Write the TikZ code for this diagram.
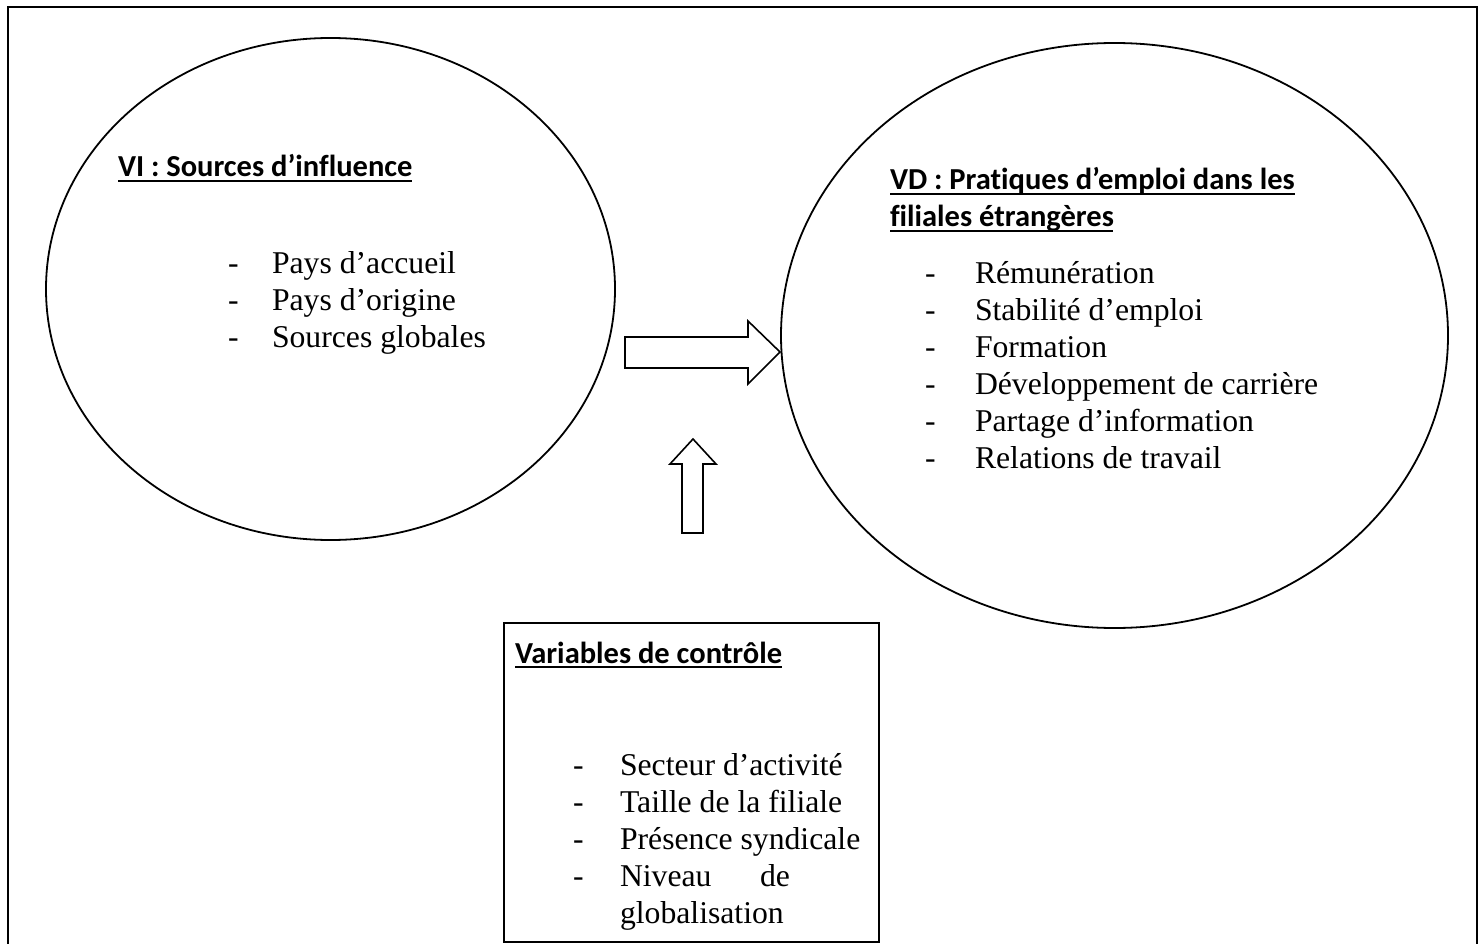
\documentclass[tikz,border=0pt]{standalone}
\usepackage{fontspec}
\setmainfont{Liberation Serif}
\newfontfamily\calib{Carlito}[Ligatures=NoCommon]
\usetikzlibrary{shapes.geometric}
\begin{document}
\begin{tikzpicture}[x=1pt,y=-1pt,
  item/.style={anchor=base west, inner sep=0pt, outer sep=0pt, font=\fontsize{31.7}{37}\selectfont},
  head/.style={anchor=base west, inner sep=0pt, outer sep=0pt, font=\calib\bfseries\fontsize{30.5}{37}\selectfont},
  oval/.style={ellipse, draw, line width=1.8pt, inner sep=0pt},
  blockarrow/.style={draw, line width=1.6pt, fill=white, line join=miter},
  uline/.style={line width=1.8pt}]
\useasboundingbox (0,0) rectangle (1483,944);
% outer frame (bottom edge lies outside the picture)
\draw[line width=1.6pt] (8,7) rectangle (1477,980);
% ellipses
\node[oval, minimum width=569pt, minimum height=502pt] (vi) at (330.5,289) {};
\node[oval, minimum width=667pt, minimum height=585pt] (vd) at (1114.5,335.5) {};
% control box
\node[draw, line width=1.6pt, minimum width=375pt, minimum height=319pt, anchor=north west, inner sep=0pt] (ctrl) at (503,622) {};
% block arrows
\draw[blockarrow] (625,337) -- (748,337) -- (748,321) -- (780,352) -- (748,384) -- (748,368) -- (625,368) -- cycle;
\draw[blockarrow] (682,533) -- (682,464) -- (670,464) -- (693,439) -- (716,464) -- (703,464) -- (703,533) -- cycle;
% left ellipse text
\node[head] (h1) at (118,177) {VI : Sources d’influence};
\draw[uline] ([yshift=-4pt]h1.base west) -- ([yshift=-4pt]h1.base east);
\node[item] (d1) at (228,273) {-};
\node[item] (t1) at (272,273) {Pays d’accueil};
\node[item] (d2) at (228,310) {-};
\node[item] (t2) at (272,310) {Pays d’origine};
\node[item] (d3) at (228,347) {-};
\node[item] (t3) at (272,347) {Sources globales};
% right ellipse text
\node[head] (h2) at (890,190) {VD : Pratiques d’emploi dans les};
\draw[uline] ([yshift=-4pt]h2.base west) -- ([yshift=-4pt]h2.base east);
\node[head] (h3) at (890,227) {filiales étrangères};
\coordinate (h3end) at (1113,231);
\draw[uline] ([yshift=-4pt]h3.base west) -- (h3end);
\node[item] (e1) at (925,283) {-};
\node[item] (r1) at (975,283) {Rémunération};
\node[item] (e2) at (925,320) {-};
\node[item] (r2) at (975,320) {Stabilité d’emploi};
\node[item] (e3) at (925,357) {-};
\node[item] (r3) at (975,357) {Formation};
\node[item] (e4) at (925,394) {-};
\node[item] (r4) at (975,394) {Développement de carrière};
\node[item] (e5) at (925,431) {-};
\node[item] (r5) at (975,431) {Partage d’information};
\node[item] (e6) at (925,468) {-};
\node[item] (r6) at (975,468) {Relations de travail};
% control box text
\node[head] (h4) at (515,663) {Variables de contrôle};
\draw[uline] ([yshift=-4pt]h4.base west) -- ([yshift=-4pt]h4.base east);
\node[item] (f1) at (573,775) {-};
\node[item] (c1) at (620,775) {Secteur d’activité};
\node[item] (f2) at (573,812) {-};
\node[item] (c2) at (620,812) {Taille de la filiale};
\node[item] (f3) at (573,849) {-};
\node[item] (c3) at (620,849) {Présence syndicale};
\node[item] (f4) at (573,886) {-};
\node[item] (c4) at (620,886) {Niveau};
\node[item, anchor=base east] (c4b) at (790,886) {de};
\node[item] (c5) at (620,923) {globalisation};
\end{tikzpicture}
\end{document}
